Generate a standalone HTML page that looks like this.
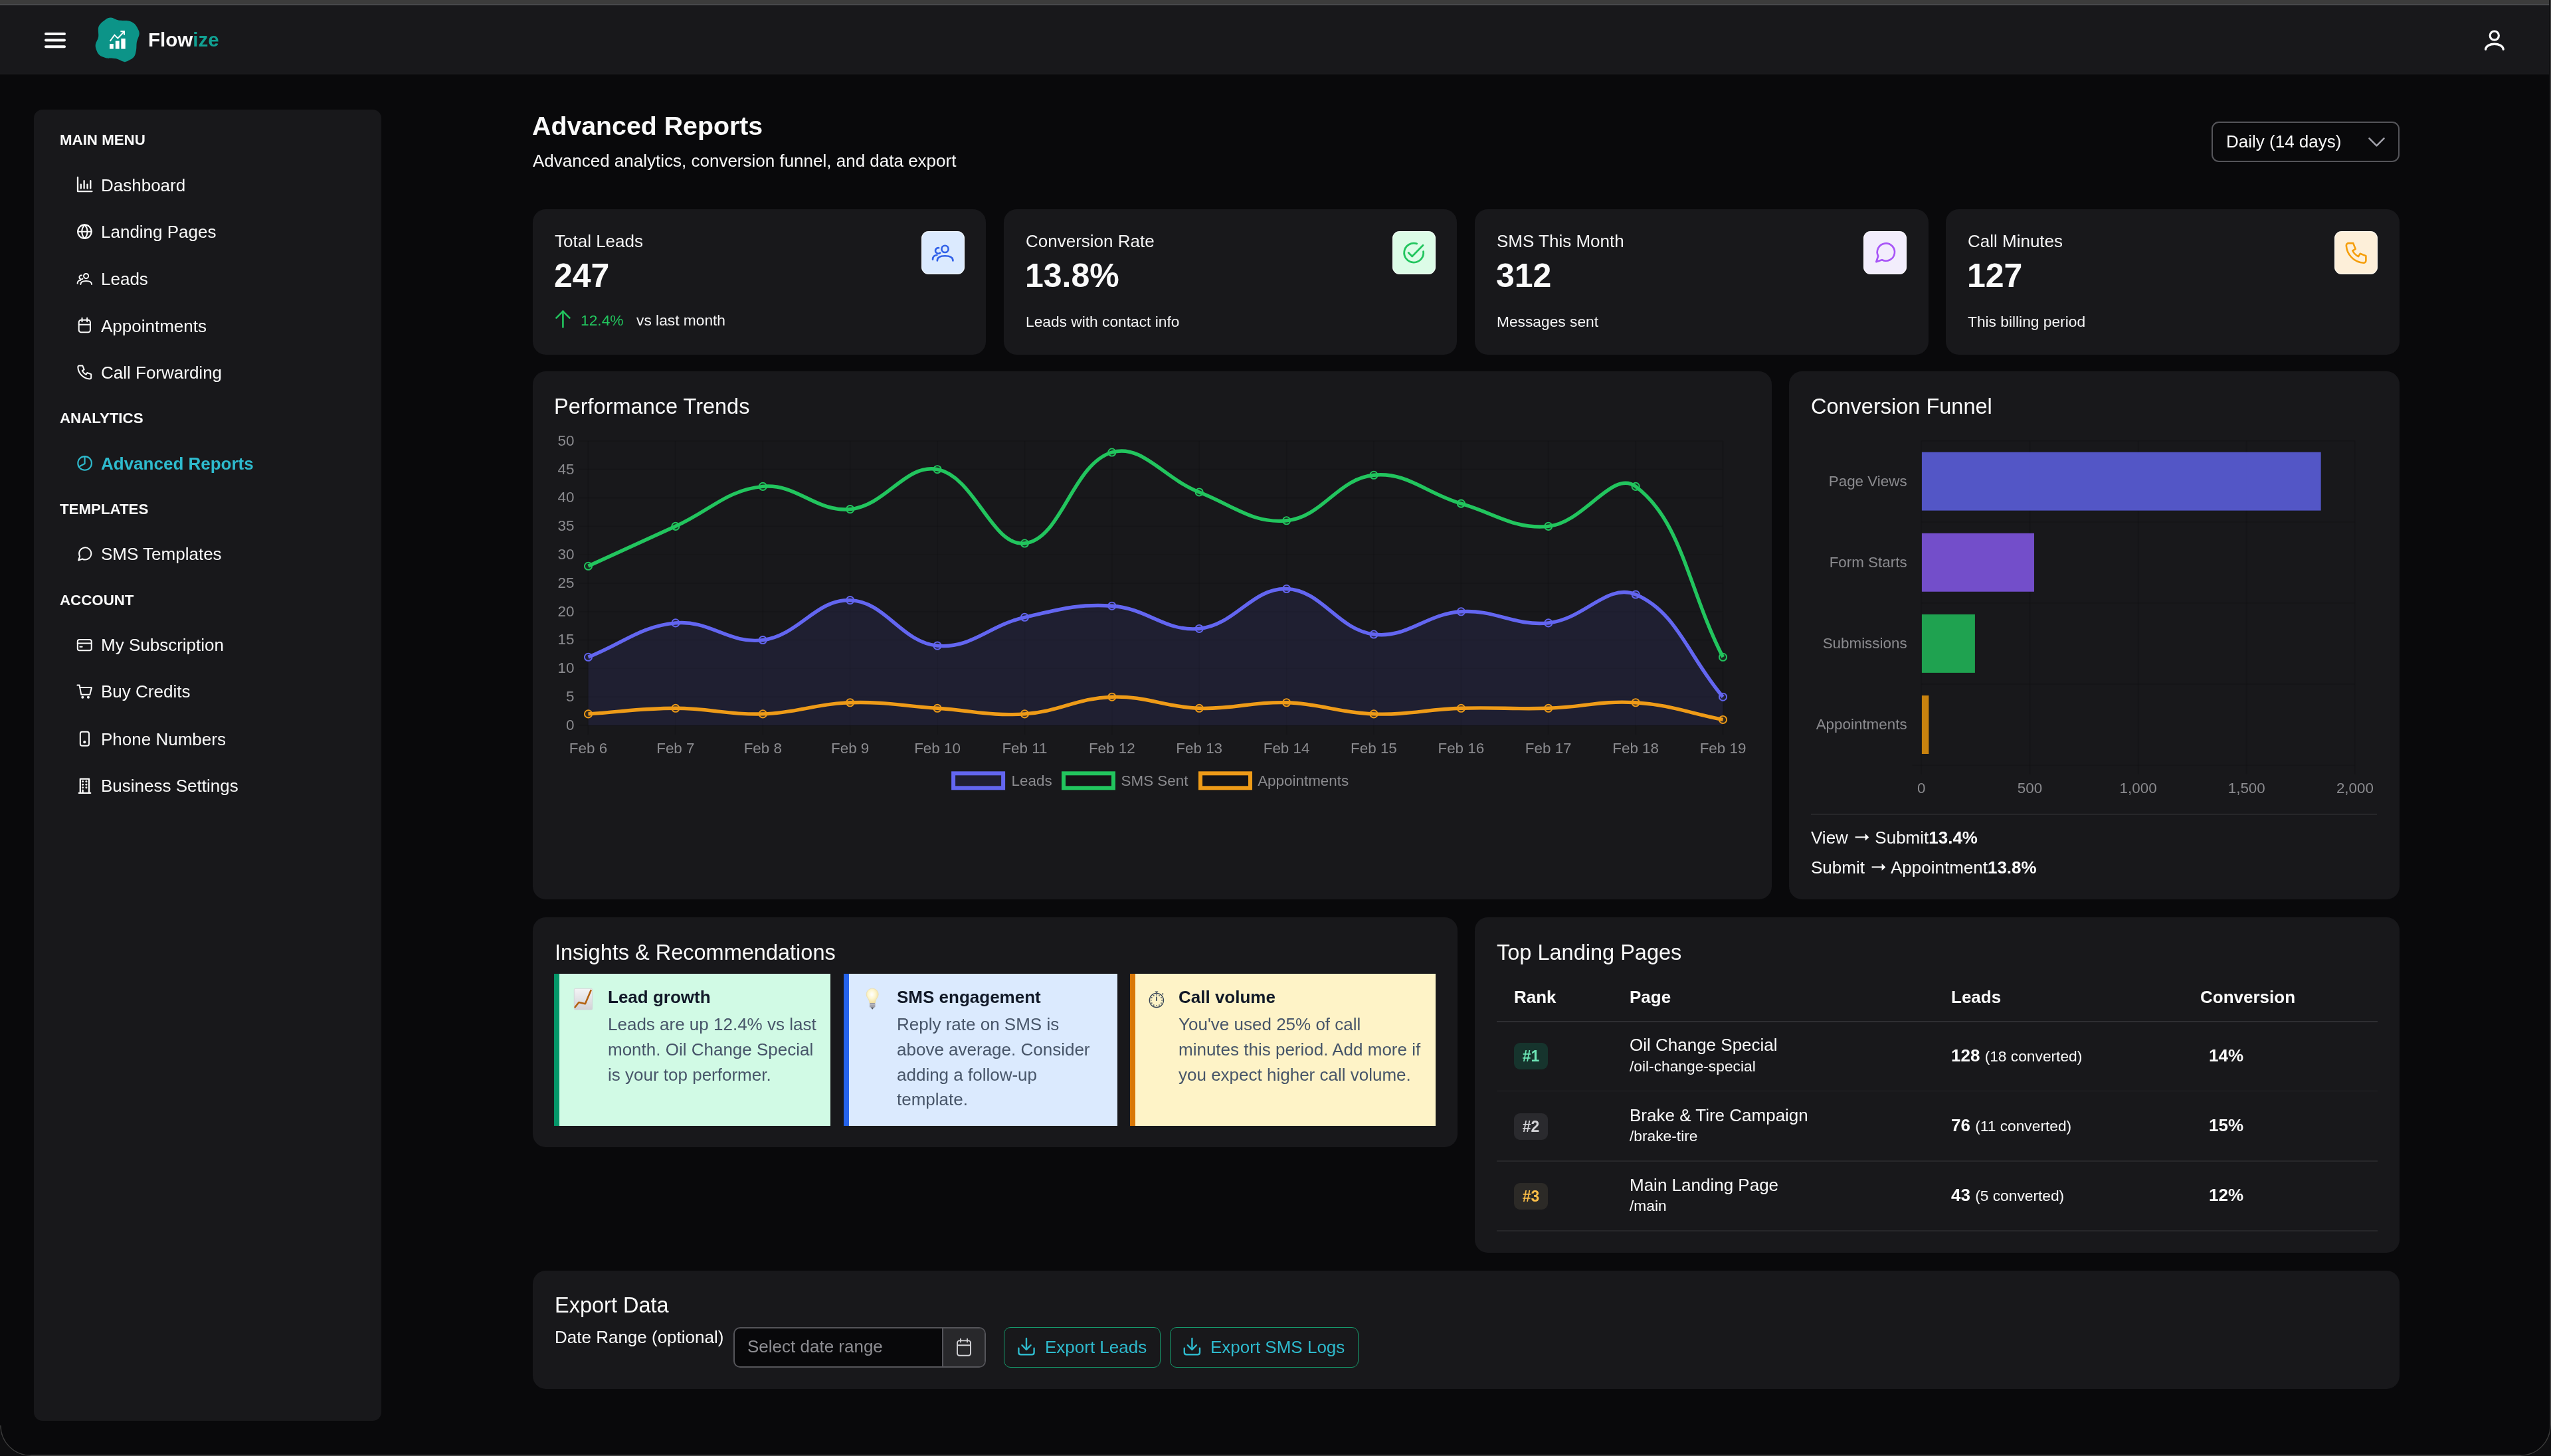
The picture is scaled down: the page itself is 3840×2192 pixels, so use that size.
<!DOCTYPE html><html lang="en"><head><meta charset="utf-8"><title>Advanced Reports - Flowize</title><style>
*{box-sizing:border-box;margin:0;padding:0}
html,body{width:3840px;height:2192px;overflow:hidden;background:#0e0e10}
body{font-family:"Liberation Sans", Arial, Helvetica, sans-serif;color:#fafafa;position:relative}
#win{position:absolute;left:0;top:0;width:3840px;height:2192px;background:#09090b;border-radius:0 0 46px 46px;overflow:hidden}
.t{position:absolute;white-space:nowrap;will-change:transform}
.b{position:absolute}
b{font-weight:700}
svg{position:absolute;left:0;top:0;will-change:transform}
.arr{position:relative;color:transparent}
svg text{font-family:"Liberation Sans", Arial, Helvetica, sans-serif}
</style></head><body><div id="win">
<div class="b" style="left:0.00px;top:0.00px;width:3840.00px;height:6.00px;background:#3c3c3c"></div>
<div class="b" style="left:0.00px;top:6.00px;width:3840.00px;height:1.60px;background:#48494c"></div>
<div class="b" style="left:0.00px;top:8.00px;width:3840.00px;height:104.00px;background:#18181b"></div>
<div class="b" style="left:0.00px;top:111.00px;width:3840.00px;height:1.00px;background:#1f1f22"></div>
<div class="t" style="left:223.00px;top:42.07px;font-size:29.5px;line-height:35.40px;color:#fafafa;font-weight:700;"><span style="color:#fafafa">Flow</span><span style="color:#11a193">ize</span></div>
<div class="b" style="left:50.50px;top:164.50px;width:523.00px;height:1974.50px;background:#18181b;border-radius:13px"></div>
<div class="t" style="left:90.40px;top:197.89px;font-size:22.3px;line-height:26.76px;color:#fafafa;font-weight:700;">MAIN MENU</div>
<div class="t" style="left:90.40px;top:617.29px;font-size:22.3px;line-height:26.76px;color:#fafafa;font-weight:700;">ANALYTICS</div>
<div class="t" style="left:90.40px;top:753.79px;font-size:22.3px;line-height:26.76px;color:#fafafa;font-weight:700;">TEMPLATES</div>
<div class="t" style="left:90.40px;top:890.69px;font-size:22.3px;line-height:26.76px;color:#fafafa;font-weight:700;">ACCOUNT</div>
<div class="t" style="left:152.30px;top:263.79px;font-size:26px;line-height:31.20px;color:#fafafa;font-weight:400;">Dashboard</div>
<div class="t" style="left:152.30px;top:333.99px;font-size:26px;line-height:31.20px;color:#fafafa;font-weight:400;">Landing Pages</div>
<div class="t" style="left:152.30px;top:404.69px;font-size:26px;line-height:31.20px;color:#fafafa;font-weight:400;">Leads</div>
<div class="t" style="left:152.30px;top:475.59px;font-size:26px;line-height:31.20px;color:#fafafa;font-weight:400;">Appointments</div>
<div class="t" style="left:152.30px;top:545.99px;font-size:26px;line-height:31.20px;color:#fafafa;font-weight:400;">Call Forwarding</div>
<div class="t" style="left:152.30px;top:683.49px;font-size:26px;line-height:31.20px;color:#2ebacd;font-weight:700;">Advanced Reports</div>
<div class="t" style="left:152.30px;top:819.19px;font-size:26px;line-height:31.20px;color:#fafafa;font-weight:400;">SMS Templates</div>
<div class="t" style="left:152.30px;top:955.59px;font-size:26px;line-height:31.20px;color:#fafafa;font-weight:400;">My Subscription</div>
<div class="t" style="left:152.30px;top:1026.49px;font-size:26px;line-height:31.20px;color:#fafafa;font-weight:400;">Buy Credits</div>
<div class="t" style="left:152.30px;top:1097.69px;font-size:26px;line-height:31.20px;color:#fafafa;font-weight:400;">Phone Numbers</div>
<div class="t" style="left:152.30px;top:1167.99px;font-size:26px;line-height:31.20px;color:#fafafa;font-weight:400;">Business Settings</div>
<div class="t" style="left:801.30px;top:166.19px;font-size:39.3px;line-height:47.16px;color:#fafafa;font-weight:700;">Advanced Reports</div>
<div class="t" style="left:801.50px;top:227.39px;font-size:26px;line-height:31.20px;color:#fafafa;font-weight:400;">Advanced analytics, conversion funnel, and data export</div>
<div class="b" style="left:3329px;top:183px;width:282.5px;height:60.6px;border:2px solid #55555a;border-radius:11px;background:transparent"></div>
<div class="t" style="left:3350.50px;top:198.19px;font-size:26px;line-height:31.20px;color:#fafafa;font-weight:400;">Daily (14 days)</div>
<div class="b" style="left:801.50px;top:315.00px;width:682.50px;height:218.50px;background:#18181b;border-radius:19.5px"></div>
<div class="t" style="left:834.50px;top:348.19px;font-size:26px;line-height:31.20px;color:#f4f4f5;font-weight:400;">Total Leads</div>
<div class="t" style="left:833.70px;top:384.97px;font-size:50px;line-height:60.00px;color:#fafafa;font-weight:700;">247</div>
<div class="b" style="left:1386.50px;top:347.50px;width:65.00px;height:65.00px;background:#dbeafe;border-radius:11px;box-shadow:inset 0 0 0 1.2px rgba(255,255,255,0.55)"></div>
<div class="b" style="left:1510.80px;top:315.00px;width:682.50px;height:218.50px;background:#18181b;border-radius:19.5px"></div>
<div class="t" style="left:1543.80px;top:348.19px;font-size:26px;line-height:31.20px;color:#f4f4f5;font-weight:400;">Conversion Rate</div>
<div class="t" style="left:1543.00px;top:384.97px;font-size:50px;line-height:60.00px;color:#fafafa;font-weight:700;">13.8%</div>
<div class="t" style="left:1543.80px;top:470.86px;font-size:22.75px;line-height:27.30px;color:#f4f4f5;font-weight:400;">Leads with contact info</div>
<div class="b" style="left:2095.80px;top:347.50px;width:65.00px;height:65.00px;background:#dcfce7;border-radius:11px;box-shadow:inset 0 0 0 1.2px rgba(255,255,255,0.55)"></div>
<div class="b" style="left:2220.20px;top:315.00px;width:682.50px;height:218.50px;background:#18181b;border-radius:19.5px"></div>
<div class="t" style="left:2253.20px;top:348.19px;font-size:26px;line-height:31.20px;color:#f4f4f5;font-weight:400;">SMS This Month</div>
<div class="t" style="left:2252.40px;top:384.97px;font-size:50px;line-height:60.00px;color:#fafafa;font-weight:700;">312</div>
<div class="t" style="left:2253.20px;top:470.86px;font-size:22.75px;line-height:27.30px;color:#f4f4f5;font-weight:400;">Messages sent</div>
<div class="b" style="left:2805.20px;top:347.50px;width:65.00px;height:65.00px;background:#f2edfc;border-radius:11px;box-shadow:inset 0 0 0 1.2px rgba(255,255,255,0.55)"></div>
<div class="b" style="left:2929.00px;top:315.00px;width:682.50px;height:218.50px;background:#18181b;border-radius:19.5px"></div>
<div class="t" style="left:2962.00px;top:348.19px;font-size:26px;line-height:31.20px;color:#f4f4f5;font-weight:400;">Call Minutes</div>
<div class="t" style="left:2961.20px;top:384.97px;font-size:50px;line-height:60.00px;color:#fafafa;font-weight:700;">127</div>
<div class="t" style="left:2962.00px;top:470.86px;font-size:22.75px;line-height:27.30px;color:#f4f4f5;font-weight:400;">This billing period</div>
<div class="b" style="left:3514.00px;top:347.50px;width:65.00px;height:65.00px;background:#fdefd9;border-radius:11px;box-shadow:inset 0 0 0 1.2px rgba(255,255,255,0.55)"></div>
<div class="t" style="left:873.60px;top:469.16px;font-size:22.75px;line-height:27.30px;color:#22c55e;font-weight:400;">12.4%</div>
<div class="t" style="left:957.60px;top:469.16px;font-size:22.75px;line-height:27.30px;color:#f4f4f5;font-weight:400;">vs last month</div>
<div class="b" style="left:801.50px;top:559.00px;width:1865.00px;height:795.00px;background:#18181b;border-radius:19.5px"></div>
<div class="t" style="left:834.40px;top:592.83px;font-size:32.5px;line-height:39.00px;color:#fafafa;font-weight:400;">Performance Trends</div>
<div class="b" style="left:2693.00px;top:559.00px;width:918.50px;height:795.00px;background:#18181b;border-radius:19.5px"></div>
<div class="t" style="left:2725.80px;top:592.83px;font-size:32.5px;line-height:39.00px;color:#fafafa;font-weight:400;">Conversion Funnel</div>
<div class="b" style="left:2725.80px;top:1225.00px;width:852.70px;height:1.60px;background:#27272a"></div>
<div class="t" style="left:2725.80px;top:1245.89px;font-size:26px;line-height:31.20px;color:#fafafa;font-weight:400;">View <span class="arr">→<svg width="26" height="29" viewBox="0 0 26 29"><path d="M3.6,14.4 H19.5" stroke="#fafafa" stroke-width="2.1"/><path d="M18.6,9 L24.3,14.4 L18.6,19.8 Z" fill="#fafafa"/></svg></span> Submit<b>13.4%</b></div>
<div class="t" style="left:2725.80px;top:1290.69px;font-size:26px;line-height:31.20px;color:#fafafa;font-weight:400;">Submit <span class="arr">→<svg width="26" height="29" viewBox="0 0 26 29"><path d="M3.6,14.4 H19.5" stroke="#fafafa" stroke-width="2.1"/><path d="M18.6,9 L24.3,14.4 L18.6,19.8 Z" fill="#fafafa"/></svg></span> Appointment<b>13.8%</b></div>
<div class="b" style="left:801.50px;top:1381.20px;width:1392.50px;height:346.20px;background:#18181b;border-radius:19.5px"></div>
<div class="t" style="left:835.20px;top:1414.83px;font-size:32.5px;line-height:39.00px;color:#fafafa;font-weight:400;">Insights &amp; Recommendations</div>
<div class="b" style="left:833.90px;top:1466.00px;width:416.30px;height:229.00px;background:#d1fae5;border-left:8px solid #059669"></div>
<div class="t" style="left:914.70px;top:1485.79px;font-size:26px;line-height:31.20px;color:#111827;font-weight:700;">Lead growth</div>
<div class="t" style="left:914.70px;top:1527.49px;font-size:26px;line-height:31.20px;color:#475569;font-weight:400;">Leads are up 12.4% vs last</div>
<div class="t" style="left:914.70px;top:1565.09px;font-size:26px;line-height:31.20px;color:#475569;font-weight:400;">month. Oil Change Special</div>
<div class="t" style="left:914.70px;top:1602.69px;font-size:26px;line-height:31.20px;color:#475569;font-weight:400;">is your top performer.</div>
<div class="b" style="left:1269.90px;top:1466.00px;width:412.00px;height:229.00px;background:#dbeafe;border-left:8px solid #2563eb"></div>
<div class="t" style="left:1349.80px;top:1485.79px;font-size:26px;line-height:31.20px;color:#111827;font-weight:700;">SMS engagement</div>
<div class="t" style="left:1349.80px;top:1527.49px;font-size:26px;line-height:31.20px;color:#475569;font-weight:400;">Reply rate on SMS is</div>
<div class="t" style="left:1349.80px;top:1565.09px;font-size:26px;line-height:31.20px;color:#475569;font-weight:400;">above average. Consider</div>
<div class="t" style="left:1349.80px;top:1602.69px;font-size:26px;line-height:31.20px;color:#475569;font-weight:400;">adding a follow-up</div>
<div class="t" style="left:1349.80px;top:1640.29px;font-size:26px;line-height:31.20px;color:#475569;font-weight:400;">template.</div>
<div class="b" style="left:1701.10px;top:1466.00px;width:459.90px;height:229.00px;background:#fef3c7;border-left:8px solid #d97706"></div>
<div class="t" style="left:1774.40px;top:1485.79px;font-size:26px;line-height:31.20px;color:#111827;font-weight:700;">Call volume</div>
<div class="t" style="left:1774.40px;top:1527.49px;font-size:26px;line-height:31.20px;color:#475569;font-weight:400;">You've used 25% of call</div>
<div class="t" style="left:1774.40px;top:1565.09px;font-size:26px;line-height:31.20px;color:#475569;font-weight:400;">minutes this period. Add more if</div>
<div class="t" style="left:1774.40px;top:1602.69px;font-size:26px;line-height:31.20px;color:#475569;font-weight:400;">you expect higher call volume.</div>
<div class="b" style="left:2220.20px;top:1381.20px;width:1391.80px;height:505.00px;background:#18181b;border-radius:19.5px"></div>
<div class="t" style="left:2253.20px;top:1415.43px;font-size:32.5px;line-height:39.00px;color:#fafafa;font-weight:400;">Top Landing Pages</div>
<div class="t" style="left:2279.20px;top:1486.19px;font-size:26px;line-height:31.20px;color:#fafafa;font-weight:700;">Rank</div>
<div class="t" style="left:2453.20px;top:1486.19px;font-size:26px;line-height:31.20px;color:#fafafa;font-weight:700;">Page</div>
<div class="t" style="left:2936.90px;top:1486.19px;font-size:26px;line-height:31.20px;color:#fafafa;font-weight:700;">Leads</div>
<div class="t" style="left:3312.00px;top:1486.19px;font-size:26px;line-height:31.20px;color:#fafafa;font-weight:700;">Conversion</div>
<div class="b" style="left:2253.20px;top:1537.40px;width:1326.00px;height:2.00px;background:#2e2e32"></div>
<div class="b" style="left:2279.00px;top:1570.40px;width:51.00px;height:40.00px;background:rgba(16,185,129,0.18);border-radius:9px"></div>
<div class="t" style="left:2279px;top:1570.40px;width:51px;text-align:center;font-size:23px;line-height:40px;color:#6ee7b7;font-weight:700">#1</div>
<div class="t" style="left:2453.20px;top:1558.49px;font-size:26px;line-height:31.20px;color:#fafafa;font-weight:400;">Oil Change Special</div>
<div class="t" style="left:2453.20px;top:1591.86px;font-size:22.75px;line-height:27.30px;color:#fafafa;font-weight:400;">/oil-change-special</div>
<div class="t" style="left:2936.90px;top:1573.89px;font-size:26px;line-height:31.20px;color:#fafafa;font-weight:400;"><b>128</b> <span style="font-size:22.75px">(18 converted)</span></div>
<div class="t" style="left:3324.60px;top:1573.89px;font-size:26px;line-height:31.20px;color:#fafafa;font-weight:700;">14%</div>
<div class="b" style="left:2253.20px;top:1641.80px;width:1326.00px;height:1.60px;background:#27272a"></div>
<div class="b" style="left:2279.00px;top:1675.70px;width:51.00px;height:40.00px;background:#2a2a2e;border-radius:9px"></div>
<div class="t" style="left:2279px;top:1675.70px;width:51px;text-align:center;font-size:23px;line-height:40px;color:#d4d4d8;font-weight:700">#2</div>
<div class="t" style="left:2453.20px;top:1663.79px;font-size:26px;line-height:31.20px;color:#fafafa;font-weight:400;">Brake &amp; Tire Campaign</div>
<div class="t" style="left:2453.20px;top:1697.16px;font-size:22.75px;line-height:27.30px;color:#fafafa;font-weight:400;">/brake-tire</div>
<div class="t" style="left:2936.90px;top:1679.19px;font-size:26px;line-height:31.20px;color:#fafafa;font-weight:400;"><b>76</b> <span style="font-size:22.75px">(11 converted)</span></div>
<div class="t" style="left:3324.60px;top:1679.19px;font-size:26px;line-height:31.20px;color:#fafafa;font-weight:700;">15%</div>
<div class="b" style="left:2253.20px;top:1747.10px;width:1326.00px;height:1.60px;background:#27272a"></div>
<div class="b" style="left:2279.00px;top:1781.00px;width:51.00px;height:40.00px;background:#2c2a27;border-radius:9px"></div>
<div class="t" style="left:2279px;top:1781.00px;width:51px;text-align:center;font-size:23px;line-height:40px;color:#fcbf49;font-weight:700">#3</div>
<div class="t" style="left:2453.20px;top:1769.09px;font-size:26px;line-height:31.20px;color:#fafafa;font-weight:400;">Main Landing Page</div>
<div class="t" style="left:2453.20px;top:1802.46px;font-size:22.75px;line-height:27.30px;color:#fafafa;font-weight:400;">/main</div>
<div class="t" style="left:2936.90px;top:1784.49px;font-size:26px;line-height:31.20px;color:#fafafa;font-weight:400;"><b>43</b> <span style="font-size:22.75px">(5 converted)</span></div>
<div class="t" style="left:3324.60px;top:1784.49px;font-size:26px;line-height:31.20px;color:#fafafa;font-weight:700;">12%</div>
<div class="b" style="left:2253.20px;top:1852.40px;width:1326.00px;height:1.60px;background:#27272a"></div>
<div class="b" style="left:801.50px;top:1912.60px;width:2810.00px;height:178.50px;background:#18181b;border-radius:19.5px"></div>
<div class="t" style="left:835.20px;top:1946.23px;font-size:32.5px;line-height:39.00px;color:#fafafa;font-weight:400;">Export Data</div>
<div class="t" style="left:835.20px;top:1998.19px;font-size:26px;line-height:31.20px;color:#fafafa;font-weight:400;">Date Range (optional)</div>
<div class="b" style="left:1103.8px;top:1998.4px;width:380.4px;height:60.4px;border:2px solid #55555a;border-radius:10px;background:#08080a;overflow:hidden"><div style="position:absolute;left:312.6px;top:0;width:2px;height:100%;background:#55555a"></div><div style="position:absolute;left:314.6px;top:0;right:0;height:100%;background:#28282b"></div></div>
<div class="t" style="left:1125.40px;top:2012.19px;font-size:26px;line-height:31.20px;color:#8e8e93;font-weight:400;">Select date range</div>
<div class="b" style="left:1511px;top:1997.8px;width:235.8px;height:61px;border:1.7px solid #16996b;border-radius:10px;background:transparent"></div>
<div class="t" style="left:1572.60px;top:2012.79px;font-size:26px;line-height:31.20px;color:#2ebacd;font-weight:400;">Export Leads</div>
<div class="b" style="left:1760.5px;top:1997.8px;width:284.7px;height:61px;border:1.7px solid #16996b;border-radius:10px;background:transparent"></div>
<div class="t" style="left:1822.00px;top:2012.79px;font-size:26px;line-height:31.20px;color:#2ebacd;font-weight:400;">Export SMS Logs</div>
<svg width="3840" height="2192" viewBox="0 0 3840 2192">
<line x1="69" y1="51.0" x2="97" y2="51.0" stroke="#fafafa" stroke-width="4" stroke-linecap="round"/>
<line x1="69" y1="60.6" x2="97" y2="60.6" stroke="#fafafa" stroke-width="4" stroke-linecap="round"/>
<line x1="69" y1="70.2" x2="97" y2="70.2" stroke="#fafafa" stroke-width="4" stroke-linecap="round"/>
<path d="M148.50,40.00 C150.22,35.70 155.30,31.93 158.40,29.70 C161.50,27.47 163.78,26.47 167.10,26.60 C170.42,26.73 173.85,29.70 178.30,30.50 C182.75,31.30 189.78,30.53 193.80,31.40 C197.82,32.27 200.10,33.70 202.40,35.70 C204.70,37.70 206.38,40.82 207.60,43.40 C208.82,45.98 209.98,47.88 209.70,51.20 C209.42,54.52 206.68,59.28 205.90,63.30 C205.12,67.32 205.72,71.57 205.00,75.30 C204.28,79.03 204.05,82.82 201.60,85.70 C199.15,88.58 193.03,91.45 190.30,92.60 C187.57,93.75 187.78,93.32 185.20,92.60 C182.62,91.88 178.97,89.17 174.80,88.30 C170.63,87.43 164.37,88.27 160.20,87.40 C156.03,86.53 152.32,85.12 149.80,83.10 C147.28,81.08 146.10,78.03 145.10,75.30 C144.10,72.57 143.30,70.00 143.80,66.70 C144.30,63.40 147.32,59.95 148.10,55.50 C148.88,51.05 146.78,44.30 148.50,40.00Z" fill="#0c9488"/>
<rect x="165" y="66" width="5.8" height="7.6" fill="#fff"/>
<rect x="173.8" y="61.6" width="5.8" height="12" fill="#fff"/>
<rect x="182.3" y="58.1" width="6.4" height="15.5" fill="#fff"/>
<polyline points="165.6,62 172.4,52.6 177.3,57.6 186.4,48" fill="none" stroke="#fff" stroke-width="1.9" stroke-linejoin="miter"/>
<polyline points="181.4,47.2 187,47.2 187,52.8" fill="none" stroke="#fff" stroke-width="1.9"/>
<circle cx="3754.8" cy="53.6" r="6.6" fill="none" stroke="#fafafa" stroke-width="3.2"/>
<path d="M3741.6,74.2 C3742.5,63.5 3767.2,63.5 3768.2,74.2" fill="none" stroke="#fafafa" stroke-width="3.4" stroke-linecap="round"/>
<path d="M3837.6,0 V2146" stroke="#050507" stroke-width="1"/>
<path d="M3839,0 V2146" stroke="#3c3c3c" stroke-width="2"/>
<path d="M46,2191 H3794" stroke="#3c3c3c" stroke-width="2"/>
<path d="M0.8,2146 A45.2,45.2 0 0 0 46,2191.2" fill="none" stroke="#3a3a3a" stroke-width="1.6"/>
<path d="M3794,2191.2 A45.2,45.2 0 0 0 3839.2,2146" fill="none" stroke="#3a3a3a" stroke-width="1.6"/>
<g fill="none" stroke="#fafafa" stroke-width="2.3" stroke-linecap="round" stroke-linejoin="round"><path d="M117,267 V288.2 H138.4"/><path d="M121.8,283.6 V277.6"/><path d="M126.6,283.6 V272.2"/><path d="M131.5,283.6 V277.6"/><path d="M136.3,283.6 V272.2"/></g>
<g transform="translate(115.04,336.34) scale(1.03)" fill="none" stroke="#fafafa" stroke-width="2.05" stroke-linecap="round" stroke-linejoin="round"><circle cx="12" cy="12" r="10"/><path d="M12 2a14.5 14.5 0 0 0 0 20 14.5 14.5 0 0 0 0-20"/><path d="M2 12h20"/></g>
<g transform="translate(129.6,415.6) scale(1)" fill="none" stroke="#fafafa" stroke-width="1.95" stroke-linecap="round" stroke-linejoin="round"><circle cx="0" cy="0" r="3.6"/><path d="M-6.58,-1.14 A3,3 0 1 0 -5.22,4.05"/><path d="M-8.2,12.4 C-8.2,8.4 -5,7.3 0,7.3 C5,7.3 8.4,8.4 8.4,12.4"/><path d="M-13,11.2 C-13,8 -11.5,6.6 -8.6,6.4"/></g>
<g fill="none" stroke="#fafafa" stroke-width="2.0" stroke-linecap="round" stroke-linejoin="round"><rect x="118.7" y="481.7" width="17.2" height="18.6" rx="3.4"/><path d="M118.7,488.7 H135.9"/><path d="M123.5,478.8 V484.2"/><path d="M131.1,478.8 V484.2"/></g>
<g transform="translate(113.8,545.9) scale(1.17)" fill="none" stroke="#fafafa" stroke-width="1.7" stroke-linecap="round" stroke-linejoin="round"><path d="M5 4h4l2 5l-2.5 1.5a11 11 0 0 0 5 5l1.5 -2.5l5 2v4a2 2 0 0 1 -2 2a16 16 0 0 1 -15 -15a2 2 0 0 1 2 -2"/></g>
<g fill="none" stroke="#2ebacd" stroke-width="2.1" stroke-linecap="round" stroke-linejoin="round"><circle cx="127.6" cy="697.4" r="10.3"/><path d="M127.6,687.1 V698 L118.6,702.8"/></g>
<g transform="translate(116.08,821.28) scale(1.01)" fill="none" stroke="#fafafa" stroke-width="2.0" stroke-linecap="round" stroke-linejoin="round"><path d="M7.9 20A9 9 0 1 0 4 16.1L2 22Z"/></g>
<g fill="none" stroke="#fafafa" stroke-width="2.0" stroke-linecap="round" stroke-linejoin="round"><rect x="116.8" y="962.9" width="20.9" height="16.3" rx="2.6"/><path d="M116.8,968.4 H137.7"/><path d="M120.4,973.7 H123.6"/></g>
<g fill="none" stroke="#fafafa" stroke-width="2.0" stroke-linecap="round" stroke-linejoin="round"><path d="M116.4,1031.4 H119.5 L122.3,1045.8 H135.3 L137.9,1035.1 H120.1"/><circle cx="124.3" cy="1049.8" r="1" fill="#fafafa"/><circle cx="132.9" cy="1049.8" r="1" fill="#fafafa"/></g>
<g fill="none" stroke="#fafafa" stroke-width="2.0" stroke-linecap="round" stroke-linejoin="round"><rect x="120.8" y="1101.7" width="13.2" height="21.1" rx="2.8"/><circle cx="127.25" cy="1117.2" r="1.1" fill="#fafafa"/></g>
<g fill="none" stroke="#fafafa" stroke-width="2.3" stroke-linecap="round" stroke-linejoin="round"><path d="M120.8,1193.6 V1172.6 H134 V1193.6"/><path d="M118.8,1193.9 H136.2"/><path d="M124.6,1189.6 V1193.6"/></g>
<circle cx="124.6" cy="1176.5" r="1.45" fill="#fafafa"/>
<circle cx="124.6" cy="1181.2" r="1.45" fill="#fafafa"/>
<circle cx="124.6" cy="1185.8" r="1.45" fill="#fafafa"/>
<circle cx="129.9" cy="1176.5" r="1.45" fill="#fafafa"/>
<circle cx="129.9" cy="1181.2" r="1.45" fill="#fafafa"/>
<circle cx="129.9" cy="1185.8" r="1.45" fill="#fafafa"/>
<polyline points="3566.5,208.4 3577.5,219.4 3588.5,208.4" fill="none" stroke="#a1a1aa" stroke-width="2.6" stroke-linecap="round" stroke-linejoin="round"/>
<g transform="translate(1422.5,374.9) scale(1.42)" fill="none" stroke="#3060e8" stroke-width="1.85" stroke-linecap="round" stroke-linejoin="round"><circle cx="0" cy="0" r="3.6"/><path d="M-6.58,-1.14 A3,3 0 1 0 -5.22,4.05"/><path d="M-8.2,12.4 C-8.2,8.4 -5,7.3 0,7.3 C5,7.3 8.4,8.4 8.4,12.4"/><path d="M-13,11.2 C-13,8 -11.5,6.6 -8.6,6.4"/></g>
<g fill="none" stroke="#22c55e" stroke-width="2.8" stroke-linecap="round" stroke-linejoin="round"><path d="M2142.56,378.58 A14.5,14.5 0 1 1 2132.68,366.81"/><path d="M2120.2,380.4 L2125.7,386 L2142,369.2"/></g>
<g transform="translate(2821.4,362.1) scale(1.456)" fill="none" stroke="#a855f7" stroke-width="1.85" stroke-linecap="round" stroke-linejoin="round"><path d="M7.9 20A9 9 0 1 0 4 16.1L2 22Z"/></g>
<g transform="translate(3526.6,359.2) scale(1.74)" fill="none" stroke="#f59e0b" stroke-width="1.5" stroke-linecap="round" stroke-linejoin="round"><path d="M5 4h4l2 5l-2.5 1.5a11 11 0 0 0 5 5l1.5 -2.5l5 2v4a2 2 0 0 1 -2 2a16 16 0 0 1 -15 -15a2 2 0 0 1 2 -2"/></g>
<g fill="none" stroke="#22c55e" stroke-width="2.6" stroke-linecap="round" stroke-linejoin="round"><path d="M847.4,468.6 V492.6"/><path d="M837.4,478.6 L847.4,468.6 L857.4,478.6"/></g>
<line x1="871" y1="1092.00" x2="2593.5" y2="1092.00" stroke="rgba(0,0,0,0.11)" stroke-width="1.9"/>
<text x="864.50" y="1098.80" font-size="22.4" fill="#8b8b8f" text-anchor="end" font-weight="400">0</text>
<line x1="871" y1="1049.19" x2="2593.5" y2="1049.19" stroke="rgba(0,0,0,0.11)" stroke-width="1.9"/>
<text x="864.50" y="1055.99" font-size="22.4" fill="#8b8b8f" text-anchor="end" font-weight="400">5</text>
<line x1="871" y1="1006.38" x2="2593.5" y2="1006.38" stroke="rgba(0,0,0,0.11)" stroke-width="1.9"/>
<text x="864.50" y="1013.18" font-size="22.4" fill="#8b8b8f" text-anchor="end" font-weight="400">10</text>
<line x1="871" y1="963.57" x2="2593.5" y2="963.57" stroke="rgba(0,0,0,0.11)" stroke-width="1.9"/>
<text x="864.50" y="970.37" font-size="22.4" fill="#8b8b8f" text-anchor="end" font-weight="400">15</text>
<line x1="871" y1="920.76" x2="2593.5" y2="920.76" stroke="rgba(0,0,0,0.11)" stroke-width="1.9"/>
<text x="864.50" y="927.56" font-size="22.4" fill="#8b8b8f" text-anchor="end" font-weight="400">20</text>
<line x1="871" y1="877.95" x2="2593.5" y2="877.95" stroke="rgba(0,0,0,0.11)" stroke-width="1.9"/>
<text x="864.50" y="884.75" font-size="22.4" fill="#8b8b8f" text-anchor="end" font-weight="400">25</text>
<line x1="871" y1="835.14" x2="2593.5" y2="835.14" stroke="rgba(0,0,0,0.11)" stroke-width="1.9"/>
<text x="864.50" y="841.94" font-size="22.4" fill="#8b8b8f" text-anchor="end" font-weight="400">30</text>
<line x1="871" y1="792.33" x2="2593.5" y2="792.33" stroke="rgba(0,0,0,0.11)" stroke-width="1.9"/>
<text x="864.50" y="799.13" font-size="22.4" fill="#8b8b8f" text-anchor="end" font-weight="400">35</text>
<line x1="871" y1="749.52" x2="2593.5" y2="749.52" stroke="rgba(0,0,0,0.11)" stroke-width="1.9"/>
<text x="864.50" y="756.32" font-size="22.4" fill="#8b8b8f" text-anchor="end" font-weight="400">40</text>
<line x1="871" y1="706.71" x2="2593.5" y2="706.71" stroke="rgba(0,0,0,0.11)" stroke-width="1.9"/>
<text x="864.50" y="713.51" font-size="22.4" fill="#8b8b8f" text-anchor="end" font-weight="400">45</text>
<line x1="871" y1="663.90" x2="2593.5" y2="663.90" stroke="rgba(0,0,0,0.11)" stroke-width="1.9"/>
<text x="864.50" y="670.70" font-size="22.4" fill="#8b8b8f" text-anchor="end" font-weight="400">50</text>
<line x1="885.50" y1="663.9" x2="885.50" y2="1106.0" stroke="rgba(0,0,0,0.11)" stroke-width="1.9"/>
<text x="885.50" y="1134.20" font-size="22.4" fill="#8b8b8f" text-anchor="middle" font-weight="400">Feb 6</text>
<line x1="1016.88" y1="663.9" x2="1016.88" y2="1106.0" stroke="rgba(0,0,0,0.11)" stroke-width="1.9"/>
<text x="1016.88" y="1134.20" font-size="22.4" fill="#8b8b8f" text-anchor="middle" font-weight="400">Feb 7</text>
<line x1="1148.27" y1="663.9" x2="1148.27" y2="1106.0" stroke="rgba(0,0,0,0.11)" stroke-width="1.9"/>
<text x="1148.27" y="1134.20" font-size="22.4" fill="#8b8b8f" text-anchor="middle" font-weight="400">Feb 8</text>
<line x1="1279.65" y1="663.9" x2="1279.65" y2="1106.0" stroke="rgba(0,0,0,0.11)" stroke-width="1.9"/>
<text x="1279.65" y="1134.20" font-size="22.4" fill="#8b8b8f" text-anchor="middle" font-weight="400">Feb 9</text>
<line x1="1411.04" y1="663.9" x2="1411.04" y2="1106.0" stroke="rgba(0,0,0,0.11)" stroke-width="1.9"/>
<text x="1411.04" y="1134.20" font-size="22.4" fill="#8b8b8f" text-anchor="middle" font-weight="400">Feb 10</text>
<line x1="1542.42" y1="663.9" x2="1542.42" y2="1106.0" stroke="rgba(0,0,0,0.11)" stroke-width="1.9"/>
<text x="1542.42" y="1134.20" font-size="22.4" fill="#8b8b8f" text-anchor="middle" font-weight="400">Feb 11</text>
<line x1="1673.81" y1="663.9" x2="1673.81" y2="1106.0" stroke="rgba(0,0,0,0.11)" stroke-width="1.9"/>
<text x="1673.81" y="1134.20" font-size="22.4" fill="#8b8b8f" text-anchor="middle" font-weight="400">Feb 12</text>
<line x1="1805.19" y1="663.9" x2="1805.19" y2="1106.0" stroke="rgba(0,0,0,0.11)" stroke-width="1.9"/>
<text x="1805.19" y="1134.20" font-size="22.4" fill="#8b8b8f" text-anchor="middle" font-weight="400">Feb 13</text>
<line x1="1936.58" y1="663.9" x2="1936.58" y2="1106.0" stroke="rgba(0,0,0,0.11)" stroke-width="1.9"/>
<text x="1936.58" y="1134.20" font-size="22.4" fill="#8b8b8f" text-anchor="middle" font-weight="400">Feb 14</text>
<line x1="2067.96" y1="663.9" x2="2067.96" y2="1106.0" stroke="rgba(0,0,0,0.11)" stroke-width="1.9"/>
<text x="2067.96" y="1134.20" font-size="22.4" fill="#8b8b8f" text-anchor="middle" font-weight="400">Feb 15</text>
<line x1="2199.35" y1="663.9" x2="2199.35" y2="1106.0" stroke="rgba(0,0,0,0.11)" stroke-width="1.9"/>
<text x="2199.35" y="1134.20" font-size="22.4" fill="#8b8b8f" text-anchor="middle" font-weight="400">Feb 16</text>
<line x1="2330.73" y1="663.9" x2="2330.73" y2="1106.0" stroke="rgba(0,0,0,0.11)" stroke-width="1.9"/>
<text x="2330.73" y="1134.20" font-size="22.4" fill="#8b8b8f" text-anchor="middle" font-weight="400">Feb 17</text>
<line x1="2462.12" y1="663.9" x2="2462.12" y2="1106.0" stroke="rgba(0,0,0,0.11)" stroke-width="1.9"/>
<text x="2462.12" y="1134.20" font-size="22.4" fill="#8b8b8f" text-anchor="middle" font-weight="400">Feb 18</text>
<line x1="2593.50" y1="663.9" x2="2593.50" y2="1106.0" stroke="rgba(0,0,0,0.11)" stroke-width="1.9"/>
<text x="2593.50" y="1134.20" font-size="22.4" fill="#8b8b8f" text-anchor="middle" font-weight="400">Feb 19</text>
<path d="M885.50,989.26 C938.05,968.71 962.95,943.16 1016.88,937.88 C1068.06,932.88 1097.71,970.16 1148.27,963.57 C1202.81,956.46 1227.78,901.95 1279.65,903.64 C1332.88,905.37 1356.65,966.82 1411.04,972.13 C1461.76,977.09 1488.76,941.56 1542.42,929.32 C1593.87,917.59 1621.90,908.82 1673.81,912.20 C1727.00,915.66 1754.26,951.42 1805.19,946.45 C1859.37,941.15 1884.70,884.82 1936.58,886.51 C1989.81,888.25 2013.11,947.86 2067.96,955.01 C2118.22,961.56 2146.15,924.23 2199.35,920.76 C2251.26,917.38 2279.28,942.91 2330.73,937.88 C2384.39,932.64 2419.49,877.02 2462.12,895.07 C2524.59,921.54 2540.95,987.54 2593.50,1049.19 L2593.5,1092.0 L885.5,1092.0 Z" fill="rgba(99,102,241,0.10)"/>
<path d="M885.50,989.26 C938.05,968.71 962.95,943.16 1016.88,937.88 C1068.06,932.88 1097.71,970.16 1148.27,963.57 C1202.81,956.46 1227.78,901.95 1279.65,903.64 C1332.88,905.37 1356.65,966.82 1411.04,972.13 C1461.76,977.09 1488.76,941.56 1542.42,929.32 C1593.87,917.59 1621.90,908.82 1673.81,912.20 C1727.00,915.66 1754.26,951.42 1805.19,946.45 C1859.37,941.15 1884.70,884.82 1936.58,886.51 C1989.81,888.25 2013.11,947.86 2067.96,955.01 C2118.22,961.56 2146.15,924.23 2199.35,920.76 C2251.26,917.38 2279.28,942.91 2330.73,937.88 C2384.39,932.64 2419.49,877.02 2462.12,895.07 C2524.59,921.54 2540.95,987.54 2593.50,1049.19" fill="none" stroke="#6366f1" stroke-width="5.4" stroke-linejoin="round"/>
<path d="M885.50,852.26 C938.05,828.29 964.33,816.30 1016.88,792.33 C1069.44,768.36 1094.10,737.69 1148.27,732.40 C1199.20,727.42 1228.72,771.62 1279.65,766.64 C1333.83,761.35 1363.10,697.34 1411.04,706.71 C1468.20,717.89 1492.43,822.90 1542.42,818.02 C1597.53,812.63 1614.11,698.53 1673.81,681.02 C1719.22,667.71 1751.48,719.96 1805.19,740.96 C1856.59,761.05 1885.86,788.73 1936.58,783.77 C1990.96,778.45 2013.58,720.59 2067.96,715.27 C2118.68,710.31 2146.33,742.53 2199.35,758.08 C2251.44,773.36 2279.80,797.31 2330.73,792.33 C2384.90,787.03 2427.05,706.12 2462.12,732.40 C2532.16,784.89 2540.95,886.51 2593.50,989.26" fill="none" stroke="#22c55e" stroke-width="5.4" stroke-linejoin="round"/>
<path d="M885.50,1074.88 C938.05,1071.45 964.33,1066.31 1016.88,1066.31 C1069.44,1066.31 1095.88,1076.58 1148.27,1074.88 C1200.99,1073.16 1226.93,1059.47 1279.65,1057.75 C1332.04,1056.04 1358.48,1062.89 1411.04,1066.31 C1463.59,1069.74 1490.31,1078.27 1542.42,1074.88 C1595.41,1071.42 1620.98,1050.91 1673.81,1049.19 C1726.09,1047.49 1752.47,1064.60 1805.19,1066.31 C1857.58,1068.02 1884.19,1056.04 1936.58,1057.75 C1989.30,1059.47 2015.24,1073.16 2067.96,1074.88 C2120.35,1076.58 2146.74,1068.03 2199.35,1066.31 C2251.84,1064.60 2278.23,1068.02 2330.73,1066.31 C2383.34,1064.60 2410.00,1054.36 2462.12,1057.75 C2515.11,1061.21 2540.95,1073.16 2593.50,1083.44" fill="none" stroke="#ee9b18" stroke-width="5.4" stroke-linejoin="round"/>
<circle cx="885.50" cy="989.26" r="5.6" fill="#6366f1" fill-opacity="0.12" stroke="#6366f1" stroke-width="1.9"/>
<circle cx="1016.88" cy="937.88" r="5.6" fill="#6366f1" fill-opacity="0.12" stroke="#6366f1" stroke-width="1.9"/>
<circle cx="1148.27" cy="963.57" r="5.6" fill="#6366f1" fill-opacity="0.12" stroke="#6366f1" stroke-width="1.9"/>
<circle cx="1279.65" cy="903.64" r="5.6" fill="#6366f1" fill-opacity="0.12" stroke="#6366f1" stroke-width="1.9"/>
<circle cx="1411.04" cy="972.13" r="5.6" fill="#6366f1" fill-opacity="0.12" stroke="#6366f1" stroke-width="1.9"/>
<circle cx="1542.42" cy="929.32" r="5.6" fill="#6366f1" fill-opacity="0.12" stroke="#6366f1" stroke-width="1.9"/>
<circle cx="1673.81" cy="912.20" r="5.6" fill="#6366f1" fill-opacity="0.12" stroke="#6366f1" stroke-width="1.9"/>
<circle cx="1805.19" cy="946.45" r="5.6" fill="#6366f1" fill-opacity="0.12" stroke="#6366f1" stroke-width="1.9"/>
<circle cx="1936.58" cy="886.51" r="5.6" fill="#6366f1" fill-opacity="0.12" stroke="#6366f1" stroke-width="1.9"/>
<circle cx="2067.96" cy="955.01" r="5.6" fill="#6366f1" fill-opacity="0.12" stroke="#6366f1" stroke-width="1.9"/>
<circle cx="2199.35" cy="920.76" r="5.6" fill="#6366f1" fill-opacity="0.12" stroke="#6366f1" stroke-width="1.9"/>
<circle cx="2330.73" cy="937.88" r="5.6" fill="#6366f1" fill-opacity="0.12" stroke="#6366f1" stroke-width="1.9"/>
<circle cx="2462.12" cy="895.07" r="5.6" fill="#6366f1" fill-opacity="0.12" stroke="#6366f1" stroke-width="1.9"/>
<circle cx="2593.50" cy="1049.19" r="5.6" fill="#6366f1" fill-opacity="0.12" stroke="#6366f1" stroke-width="1.9"/>
<circle cx="885.50" cy="852.26" r="5.6" fill="#22c55e" fill-opacity="0.12" stroke="#22c55e" stroke-width="1.9"/>
<circle cx="1016.88" cy="792.33" r="5.6" fill="#22c55e" fill-opacity="0.12" stroke="#22c55e" stroke-width="1.9"/>
<circle cx="1148.27" cy="732.40" r="5.6" fill="#22c55e" fill-opacity="0.12" stroke="#22c55e" stroke-width="1.9"/>
<circle cx="1279.65" cy="766.64" r="5.6" fill="#22c55e" fill-opacity="0.12" stroke="#22c55e" stroke-width="1.9"/>
<circle cx="1411.04" cy="706.71" r="5.6" fill="#22c55e" fill-opacity="0.12" stroke="#22c55e" stroke-width="1.9"/>
<circle cx="1542.42" cy="818.02" r="5.6" fill="#22c55e" fill-opacity="0.12" stroke="#22c55e" stroke-width="1.9"/>
<circle cx="1673.81" cy="681.02" r="5.6" fill="#22c55e" fill-opacity="0.12" stroke="#22c55e" stroke-width="1.9"/>
<circle cx="1805.19" cy="740.96" r="5.6" fill="#22c55e" fill-opacity="0.12" stroke="#22c55e" stroke-width="1.9"/>
<circle cx="1936.58" cy="783.77" r="5.6" fill="#22c55e" fill-opacity="0.12" stroke="#22c55e" stroke-width="1.9"/>
<circle cx="2067.96" cy="715.27" r="5.6" fill="#22c55e" fill-opacity="0.12" stroke="#22c55e" stroke-width="1.9"/>
<circle cx="2199.35" cy="758.08" r="5.6" fill="#22c55e" fill-opacity="0.12" stroke="#22c55e" stroke-width="1.9"/>
<circle cx="2330.73" cy="792.33" r="5.6" fill="#22c55e" fill-opacity="0.12" stroke="#22c55e" stroke-width="1.9"/>
<circle cx="2462.12" cy="732.40" r="5.6" fill="#22c55e" fill-opacity="0.12" stroke="#22c55e" stroke-width="1.9"/>
<circle cx="2593.50" cy="989.26" r="5.6" fill="#22c55e" fill-opacity="0.12" stroke="#22c55e" stroke-width="1.9"/>
<circle cx="885.50" cy="1074.88" r="5.6" fill="#ee9b18" fill-opacity="0.12" stroke="#ee9b18" stroke-width="1.9"/>
<circle cx="1016.88" cy="1066.31" r="5.6" fill="#ee9b18" fill-opacity="0.12" stroke="#ee9b18" stroke-width="1.9"/>
<circle cx="1148.27" cy="1074.88" r="5.6" fill="#ee9b18" fill-opacity="0.12" stroke="#ee9b18" stroke-width="1.9"/>
<circle cx="1279.65" cy="1057.75" r="5.6" fill="#ee9b18" fill-opacity="0.12" stroke="#ee9b18" stroke-width="1.9"/>
<circle cx="1411.04" cy="1066.31" r="5.6" fill="#ee9b18" fill-opacity="0.12" stroke="#ee9b18" stroke-width="1.9"/>
<circle cx="1542.42" cy="1074.88" r="5.6" fill="#ee9b18" fill-opacity="0.12" stroke="#ee9b18" stroke-width="1.9"/>
<circle cx="1673.81" cy="1049.19" r="5.6" fill="#ee9b18" fill-opacity="0.12" stroke="#ee9b18" stroke-width="1.9"/>
<circle cx="1805.19" cy="1066.31" r="5.6" fill="#ee9b18" fill-opacity="0.12" stroke="#ee9b18" stroke-width="1.9"/>
<circle cx="1936.58" cy="1057.75" r="5.6" fill="#ee9b18" fill-opacity="0.12" stroke="#ee9b18" stroke-width="1.9"/>
<circle cx="2067.96" cy="1074.88" r="5.6" fill="#ee9b18" fill-opacity="0.12" stroke="#ee9b18" stroke-width="1.9"/>
<circle cx="2199.35" cy="1066.31" r="5.6" fill="#ee9b18" fill-opacity="0.12" stroke="#ee9b18" stroke-width="1.9"/>
<circle cx="2330.73" cy="1066.31" r="5.6" fill="#ee9b18" fill-opacity="0.12" stroke="#ee9b18" stroke-width="1.9"/>
<circle cx="2462.12" cy="1057.75" r="5.6" fill="#ee9b18" fill-opacity="0.12" stroke="#ee9b18" stroke-width="1.9"/>
<circle cx="2593.50" cy="1083.44" r="5.6" fill="#ee9b18" fill-opacity="0.12" stroke="#ee9b18" stroke-width="1.9"/>
<rect x="1435.10" y="1164.3" width="75" height="22" fill="#201f33" stroke="#6366f1" stroke-width="6"/>
<text x="1522.60" y="1182.80" font-size="22.4" fill="#8b8b8f" text-anchor="start" font-weight="400">Leads</text>
<rect x="1601.00" y="1164.3" width="75" height="22" fill="#151417" stroke="#22c55e" stroke-width="6"/>
<text x="1687.60" y="1182.80" font-size="22.4" fill="#8b8b8f" text-anchor="start" font-weight="400">SMS Sent</text>
<rect x="1807.00" y="1164.3" width="75" height="22" fill="#151417" stroke="#ee9b18" stroke-width="6"/>
<text x="1893.20" y="1182.80" font-size="22.4" fill="#8b8b8f" text-anchor="start" font-weight="400">Appointments</text>
<line x1="2892.3" y1="663.60" x2="3544.9" y2="663.60" stroke="rgba(0,0,0,0.11)" stroke-width="1.9"/>
<line x1="2892.3" y1="785.73" x2="3544.9" y2="785.73" stroke="rgba(0,0,0,0.11)" stroke-width="1.9"/>
<line x1="2892.3" y1="907.85" x2="3544.9" y2="907.85" stroke="rgba(0,0,0,0.11)" stroke-width="1.9"/>
<line x1="2892.3" y1="1029.97" x2="3544.9" y2="1029.97" stroke="rgba(0,0,0,0.11)" stroke-width="1.9"/>
<line x1="2878.3" y1="1152.10" x2="3544.9" y2="1152.10" stroke="rgba(0,0,0,0.11)" stroke-width="1.9"/>
<line x1="2892.30" y1="663.6" x2="2892.30" y2="1166.1" stroke="rgba(0,0,0,0.11)" stroke-width="1.9"/>
<text x="2892.30" y="1193.60" font-size="22.4" fill="#8b8b8f" text-anchor="middle" font-weight="400">0</text>
<line x1="3055.45" y1="663.6" x2="3055.45" y2="1166.1" stroke="rgba(0,0,0,0.11)" stroke-width="1.9"/>
<text x="3055.45" y="1193.60" font-size="22.4" fill="#8b8b8f" text-anchor="middle" font-weight="400">500</text>
<line x1="3218.60" y1="663.6" x2="3218.60" y2="1166.1" stroke="rgba(0,0,0,0.11)" stroke-width="1.9"/>
<text x="3218.60" y="1193.60" font-size="22.4" fill="#8b8b8f" text-anchor="middle" font-weight="400">1,000</text>
<line x1="3381.75" y1="663.6" x2="3381.75" y2="1166.1" stroke="rgba(0,0,0,0.11)" stroke-width="1.9"/>
<text x="3381.75" y="1193.60" font-size="22.4" fill="#8b8b8f" text-anchor="middle" font-weight="400">1,500</text>
<line x1="3544.90" y1="663.6" x2="3544.90" y2="1166.1" stroke="rgba(0,0,0,0.11)" stroke-width="1.9"/>
<text x="3544.90" y="1193.60" font-size="22.4" fill="#8b8b8f" text-anchor="middle" font-weight="400">2,000</text>
<rect x="2892.90" y="680.70" width="600.77" height="87.93" fill="rgba(99,102,241,0.8)"/>
<text x="2870.60" y="731.66" font-size="22.4" fill="#8b8b8f" text-anchor="end" font-weight="400">Page Views</text>
<rect x="2892.90" y="802.82" width="169.08" height="87.93" fill="rgba(139,92,246,0.8)"/>
<text x="2870.60" y="853.79" font-size="22.4" fill="#8b8b8f" text-anchor="end" font-weight="400">Form Starts</text>
<rect x="2892.90" y="924.95" width="80.00" height="87.93" fill="rgba(34,197,94,0.8)"/>
<text x="2870.60" y="975.91" font-size="22.4" fill="#8b8b8f" text-anchor="end" font-weight="400">Submissions</text>
<rect x="2892.90" y="1047.07" width="10.49" height="87.93" fill="rgba(245,158,11,0.8)"/>
<text x="2870.60" y="1098.04" font-size="22.4" fill="#8b8b8f" text-anchor="end" font-weight="400">Appointments</text>
<defs><linearGradient id="eg1" x1="0" y1="0" x2="0" y2="1"><stop offset="0" stop-color="#f4f4f6"/><stop offset="1" stop-color="#d2d2d6"/></linearGradient><radialGradient id="eg2" cx="0.45" cy="0.4" r="0.6"><stop offset="0" stop-color="#ffffff"/><stop offset="0.5" stop-color="#fdf6d0"/><stop offset="1" stop-color="#f1dfa0"/></radialGradient></defs>
<rect x="864.3" y="1488.3" width="27.4" height="31.6" rx="1.5" fill="url(#eg1)" stroke="#cfcfd4" stroke-width="0.8"/>
<polyline points="865.6,1516.3 871.4,1509 880.9,1511.2 889.5,1491" fill="none" stroke="#b3620f" stroke-width="2.6" stroke-linejoin="round" stroke-linecap="round"/>
<path d="M1313.2,1488.2 C1307.8,1488.2 1304.2,1492.4 1304.2,1497 C1304.2,1501.4 1307.8,1503.4 1308.6,1507.8 L1309,1510.2 L1317.4,1510.2 L1317.8,1507.8 C1318.6,1503.4 1322.2,1501.4 1322.2,1497 C1322.2,1492.4 1318.6,1488.2 1313.2,1488.2 Z" fill="url(#eg2)" stroke="#e9d9a0" stroke-width="0.6"/>
<rect x="1309" y="1510" width="8.4" height="6.6" rx="1.2" fill="#9a9aa2"/><path d="M1309.2,1512.2 H1317.2 M1309.2,1514.4 H1317.2" stroke="#d8d8de" stroke-width="0.7"/><path d="M1310.6,1516.4 L1313.2,1519.8 L1315.8,1516.4 Z" fill="#55555c"/>
<g fill="none" stroke="#334155" stroke-width="1.3"><circle cx="1740.9" cy="1506" r="10.6"/><path d="M1738.6,1493.2 H1743.2 M1740.9,1493.2 V1495.4"/><path d="M1749.4,1497.2 L1750.9,1495.7" stroke-width="1.9"/><path d="M1740.9,1500.4 V1505.6" stroke-width="1.6"/></g><circle cx="1740.9" cy="1505.8" r="1.15" fill="#334155"/>
<circle cx="1740.90" cy="1497.80" r="0.85" fill="#334155"/>
<circle cx="1745.00" cy="1498.90" r="0.85" fill="#334155"/>
<circle cx="1748.00" cy="1501.90" r="0.85" fill="#334155"/>
<circle cx="1749.10" cy="1506.00" r="0.85" fill="#334155"/>
<circle cx="1748.00" cy="1510.10" r="0.85" fill="#334155"/>
<circle cx="1745.00" cy="1513.10" r="0.85" fill="#334155"/>
<circle cx="1740.90" cy="1514.20" r="0.85" fill="#334155"/>
<circle cx="1736.80" cy="1513.10" r="0.85" fill="#334155"/>
<circle cx="1733.80" cy="1510.10" r="0.85" fill="#334155"/>
<circle cx="1732.70" cy="1506.00" r="0.85" fill="#334155"/>
<circle cx="1733.80" cy="1501.90" r="0.85" fill="#334155"/>
<circle cx="1736.80" cy="1498.90" r="0.85" fill="#334155"/>
<g fill="none" stroke="#d4d4d8" stroke-width="1.9" stroke-linecap="round" stroke-linejoin="round"><rect x="1441" y="2018.4" width="20" height="22.4" rx="3.2"/><path d="M1441,2025.2 H1461"/><path d="M1446,2015.6 V2020.4"/><path d="M1456,2015.6 V2020.4"/></g>
<g fill="none" stroke="#2ebacd" stroke-width="2.4" stroke-linecap="round" stroke-linejoin="round"><path d="M1545,2015 V2031.6"/><path d="M1538.4,2025.2 L1545,2031.8 L1551.6,2025.2"/><path d="M1533.4,2029.6 V2036.2 C1533.4,2038.2 1534.7,2039.2 1536.6,2039.2 H1553.4 C1555.3,2039.2 1556.6,2038.2 1556.6,2036.2 V2029.6"/></g>
<g fill="none" stroke="#2ebacd" stroke-width="2.4" stroke-linecap="round" stroke-linejoin="round"><path d="M1794.4,2015 V2031.6"/><path d="M1787.8000000000002,2025.2 L1794.4,2031.8 L1801.0,2025.2"/><path d="M1782.8000000000002,2029.6 V2036.2 C1782.8000000000002,2038.2 1784.1000000000001,2039.2 1786.0,2039.2 H1802.8000000000002 C1804.7,2039.2 1806.0,2038.2 1806.0,2036.2 V2029.6"/></g>
</svg></div></body></html>
